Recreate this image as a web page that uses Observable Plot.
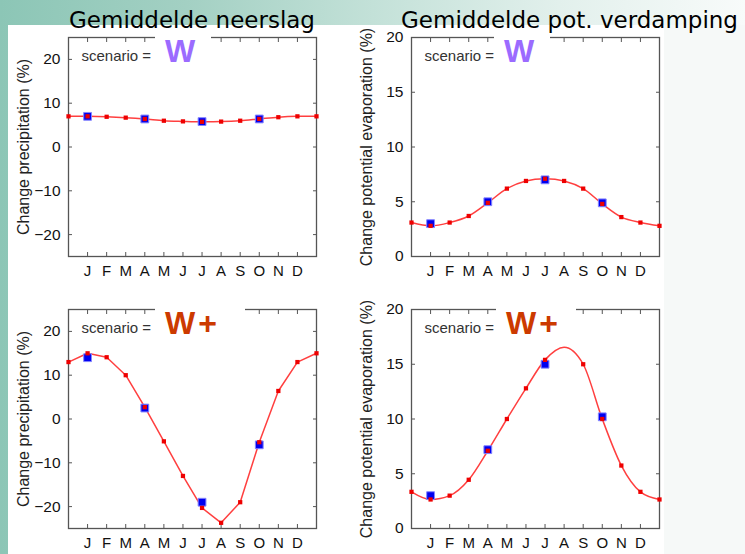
<!DOCTYPE html>
<html><head><meta charset="utf-8">
<script src="https://cdn.jsdelivr.net/npm/d3@7"></script>
<script src="https://cdn.jsdelivr.net/npm/@observablehq/plot@0.6"></script>
<style>
body{margin:0;}
#page{position:relative;width:745px;height:554px;overflow:hidden;
  background:linear-gradient(to right,#8cc6b6 0%,#a3d0c3 25%,#c3e1d8 50%,#e2f0ec 75%,#f8fbfa 100%);
  font-family:"Liberation Sans",Arial,sans-serif;}
#sheet{position:absolute;left:8px;top:25px;width:656px;height:529px;background:#fff;}
#rside{position:absolute;left:664px;top:25px;width:81px;height:529px;background:#f6f9f8;}
.title{position:absolute;font-family:"DejaVu Sans",Verdana,sans-serif;font-size:23px;line-height:23px;color:#000;white-space:nowrap;}
.panel{position:absolute;}
.wbox{position:absolute;background:#fff;height:34px;}
.wtxt{position:absolute;left:10px;top:1px;font-family:"Liberation Sans",Arial,sans-serif;font-weight:bold;font-size:32px;line-height:32px;white-space:nowrap;letter-spacing:3px;}
</style></head>
<body>
<div id="page">
  <div id="sheet"></div>
  <div id="rside"></div>
</div>
<script>
// Month categories: previous December, J..D, next January
const monthSlots = ["D","J","F","M","A","M","J","J","A","S","O","N","D","J"];
const monthLabels = ["J","F","M","A","M","J","J","A","S","O","N","D"];
const seasonSlot = [1, 4, 7, 10]; // seasonal means plotted at J, A, J, O

// Scenario W
const precipW      = [7.0, 7.0, 6.9, 6.7, 6.4, 6.0, 5.85, 5.75, 5.8, 6.0, 6.4, 6.8, 7.0, 7.0];
const precipWSeason = [7.0, 6.4, 5.8, 6.4];
const evapW        = [3.1, 2.8, 3.1, 3.7, 4.9, 6.2, 6.9, 7.1, 6.9, 6.2, 4.8, 3.6, 3.1, 2.8];
const evapWSeason  = [3.0, 5.0, 7.0, 4.9];
// Scenario W+
const precipWp      = [13.0, 15.0, 14.1, 10.0, 2.7, -5.1, -13.0, -20.3, -23.7, -19.0, -5.3, 6.4, 13.0, 15.0];
const precipWpSeason = [14.0, 2.5, -19.0, -5.9];
const evapWp        = [3.35, 2.65, 3.0, 4.45, 7.1, 10.0, 12.8, 15.4, 16.55, 15.0, 10.0, 5.75, 3.35, 2.65];
const evapWpSeason  = [3.0, 7.2, 15.0, 10.2];

const precipTicks = [-20, -10, 0, 10, 20];
const evapTicks = [0, 5, 10, 15, 20];
const titles = ["Gemiddelde neerslag", "Gemiddelde pot. verdamping"];
const yLabels = ["Change precipitation (%)", "Change potential evaporation (%)"];

const panels = [
  {left: 0,   top: 0,   values: precipW,  season: precipWSeason,  domain: [-25, 25], ticks: precipTicks, label: yLabels[0], scen: "W",  color: "#9b6bff", box: [155, 56], hidden: [], curve: "catmull-rom"},
  {left: 343, top: 0,   values: evapW,    season: evapWSeason,    domain: [0, 20],   ticks: evapTicks,   label: yLabels[1], scen: "W",  color: "#9b6bff", box: [494, 56], hidden: [], curve: "catmull-rom"},
  {left: 0,   top: 272, values: precipWp, season: precipWpSeason, domain: [-25, 25], ticks: precipTicks, label: yLabels[0], scen: "W+", color: "#cc3a00", box: [155, 90], hidden: [], curve: "linear"},
  {left: 343, top: 272, values: evapWp,   season: evapWpSeason,   domain: [0, 20],   ticks: evapTicks,   label: yLabels[1], scen: "W+", color: "#cc3a00", box: [496, 80], hidden: [8], curve: "monotone-x"}
];

const page = document.getElementById("page");
const ML = 68, MT = 37, MR = 14, MB = 30, FW = 248, FH = 219;
const tickIdx = monthLabels.map((m, k) => k + 1);

for (const p of panels) {
  const data = p.values.map((v, i) => ({i, v, m: monthSlots[i]}));
  const sdata = p.season.map((v, k) => ({i: seasonSlot[k], v}));
  const dots = data.filter(d => !p.hidden.includes(d.i));
  const chart = Plot.plot({
    width: ML + FW + MR, height: MT + FH + MB,
    marginLeft: ML, marginTop: MT, marginRight: MR, marginBottom: MB,
    style: {background: "transparent", overflow: "visible", fontFamily: "Liberation Sans, Arial, sans-serif"},
    x: {domain: [0, 13], axis: null},
    y: {domain: p.domain, axis: null},
    marks: [
      Plot.frame({stroke: "#555", strokeWidth: 1.3}),
      Plot.axisX({anchor: "bottom", ticks: tickIdx, tickSize: 0, tickPadding: 9, tickFormat: i => monthLabels[i - 1], fontSize: 15, fill: "#111", label: null}),
      Plot.axisX({anchor: "bottom", ticks: tickIdx, tickSize: -4, fill: "none", stroke: "#555", label: null}),
      Plot.axisX({anchor: "top", ticks: tickIdx, tickSize: -4, fill: "none", stroke: "#555", label: null}),
      Plot.axisY({anchor: "left", ticks: p.ticks, tickSize: 0, tickPadding: 8, fontSize: 15.5, fill: "#111", label: null}),
      Plot.axisY({anchor: "left", ticks: p.ticks, tickSize: -4, fill: "none", stroke: "#555", label: null}),
      Plot.axisY({anchor: "right", ticks: p.ticks, tickSize: -4, fill: "none", stroke: "#555", label: null}),
      Plot.text([p.label], {text: d => d, frameAnchor: "left", dx: -45, rotate: -90, fontSize: 16, fill: "#222", textAnchor: "middle"}),
      Plot.text(["scenario ="], {text: d => d, frameAnchor: "top-left", dx: 13, dy: 19, textAnchor: "start", lineAnchor: "middle", fontSize: 15, fill: "#333"}),
      Plot.line(data, {x: "i", y: "v", stroke: "#ff2a2a", strokeWidth: 1.5, strokeOpacity: 0.9, curve: p.curve}),
      Plot.dot(sdata, {x: "i", y: "v", symbol: "square", r: 4.4, fill: "#0000f0", stroke: "#8585ff", strokeWidth: 1}),
      Plot.dot(dots, {x: "i", y: "v", symbol: "square", r: 2.4, fill: "#ee0000"})
    ]
  });
  chart.classList.add("panel");
  chart.style.left = p.left + "px";
  chart.style.top = p.top + "px";
  page.appendChild(chart);

  const box = document.createElement("div");
  box.className = "wbox";
  box.style.left = p.box[0] + "px";
  box.style.width = p.box[1] + "px";
  box.style.top = (p.top + MT - 3) + "px";
  const w = document.createElement("span");
  w.className = "wtxt";
  w.style.color = p.color;
  w.textContent = p.scen;
  box.appendChild(w);
  page.appendChild(box);
}

[[titles[0], 69], [titles[1], 401]].forEach(([t, x]) => {
  const d = document.createElement("div");
  d.className = "title";
  d.style.left = x + "px";
  d.style.top = "9px";
  d.textContent = t;
  page.appendChild(d);
});
</script>
</body></html>
